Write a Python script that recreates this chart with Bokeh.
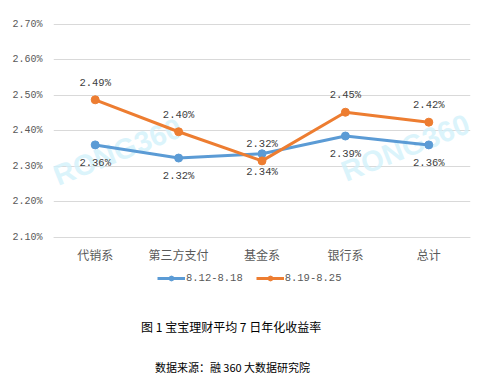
from bokeh.plotting import figure
from bokeh.models import (ColumnDataSource, Range1d, FactorRange, Label, Legend, LegendItem,
                          FixedTicker, CustomJSTickFormatter)
from bokeh.core.properties import value
from bokeh.embed import file_html
from bokeh.resources import INLINE

categories = ["代销系", "第三方支付", "基金系", "银行系", "总计"]
week1_label = "8.12-8.18"
week2_label = "8.19-8.25"
week1 = [2.36, 2.323, 2.335, 2.385, 2.36]
week2 = [2.487, 2.397, 2.315, 2.452, 2.424]
week1_text = ["2.36%", "2.32%", "2.34%", "2.39%", "2.36%"]
week2_text = ["2.49%", "2.40%", "2.32%", "2.45%", "2.42%"]
y_ticks = [2.1, 2.2, 2.3, 2.4, 2.5, 2.6, 2.7]
title_text = "图 1  宝宝理财平均 7 日年化收益率"
source_text = "数据来源：融 360 大数据研究院"
watermark = "RONG360"

BLUE = "#5b9bd5"
ORANGE = "#ed7d31"
GRAY = "#595959"
MONO = "Liberation Mono"
CJK = "Noto Sans CJK SC"

W, H = 493, 379
LEFT, RIGHT = 53, 23
PX_PER_UNIT = 355.0
Y_TOP_PX, Y_BOT_PX = 23.7, 236.7  # pixel rows of 2.70 and 2.10
y_max = 2.7 + Y_TOP_PX / PX_PER_UNIT
y_min = 2.1 - (H - Y_BOT_PX) / PX_PER_UNIT

p = figure(width=W, height=H, output_backend="svg", toolbar_location=None,
           x_range=FactorRange(*categories, range_padding=0),
           y_range=Range1d(y_min, y_max),
           min_border_left=LEFT, min_border_right=RIGHT, min_border_top=0, min_border_bottom=0)
p.outline_line_color = None
p.background_fill_color = "white"
p.border_fill_color = "white"

# axes
p.yaxis.ticker = FixedTicker(ticks=y_ticks)
p.yaxis.formatter = CustomJSTickFormatter(code="return tick.toFixed(2) + '%';")
p.yaxis.axis_line_color = None
p.yaxis.major_tick_line_color = None
p.yaxis.minor_tick_line_color = None
p.yaxis.major_label_text_font = MONO
p.yaxis.major_label_text_font_size = "10px"
p.yaxis.major_label_text_color = GRAY
p.yaxis.major_label_standoff = 5

p.xaxis.fixed_location = 2.1
p.xaxis.axis_line_color = "#d9d9d9"
p.xaxis.major_tick_line_color = None
p.xaxis.minor_tick_line_color = None
p.xaxis.major_label_text_font = CJK
p.xaxis.major_label_text_font_size = "12px"
p.xaxis.major_label_text_color = GRAY
p.xaxis.major_label_standoff = 3
p.xgrid.grid_line_color = None
p.ygrid.grid_line_color = "#d9d9d9"
p.ygrid.ticker = FixedTicker(ticks=y_ticks)

# watermarks (frame-relative screen coords, y measured from bottom)
for sx, sy in [(64, 228), (352, 232)]:
    p.add_layout(Label(x=sx, y=sy, x_units="screen", y_units="screen", text=watermark,
                       text_font="Liberation Sans", text_font_style="bold",
                       text_font_size="29px", text_color="#d2f1fb", text_alpha=0.8,
                       angle=0.38, text_align="center", text_baseline="middle",
                       level="underlay"))

src1 = ColumnDataSource(dict(x=categories, y=week1, t=week1_text))
src2 = ColumnDataSource(dict(x=categories, y=week2, t=week2_text))

l1 = p.line("x", "y", source=src1, line_color=BLUE, line_width=3)
m1 = p.scatter("x", "y", source=src1, size=8, fill_color=BLUE, line_color=BLUE)
l2 = p.line("x", "y", source=src2, line_color=ORANGE, line_width=3)
m2 = p.scatter("x", "y", source=src2, size=8, fill_color=ORANGE, line_color=ORANGE)

# data labels: week1 below, week2 above (基金系 swapped as in reference)
p.text("x", "y", text="t", source=src1, text_font=value(MONO), text_font_size="10.5px",
       text_color="#404040", text_align="center", text_baseline="middle", y_offset=18)
p.text("x", "y", text="t", source=src2, text_font=value(MONO), text_font_size="10.5px",
       text_color="#404040", text_align="center", text_baseline="middle", y_offset=-17)

legend = Legend(items=[LegendItem(label=week1_label, renderers=[l1, m1]),
                       LegendItem(label=week2_label, renderers=[l2, m2])],
                location=(104, 95), orientation="horizontal",
                glyph_width=28, glyph_height=12, label_standoff=1, spacing=13,
                padding=0, margin=0, border_line_color=None, background_fill_alpha=0,
                label_text_font=MONO, label_text_font_size="10.5px", label_text_color=GRAY)
p.add_layout(legend, "center")

p.add_layout(Label(x=179, y=53, x_units="screen", y_units="screen", text=title_text,
                   text_font=CJK, text_font_size="12px", text_color="#000000",
                   text_align="center", text_baseline="middle"))
p.add_layout(Label(x=179, y=13, x_units="screen", y_units="screen", text=source_text,
                   text_font=CJK, text_font_size="11px",
                   text_color="#000000", text_align="center", text_baseline="middle"))

open("out.html", "w").write(file_html(p, INLINE))
